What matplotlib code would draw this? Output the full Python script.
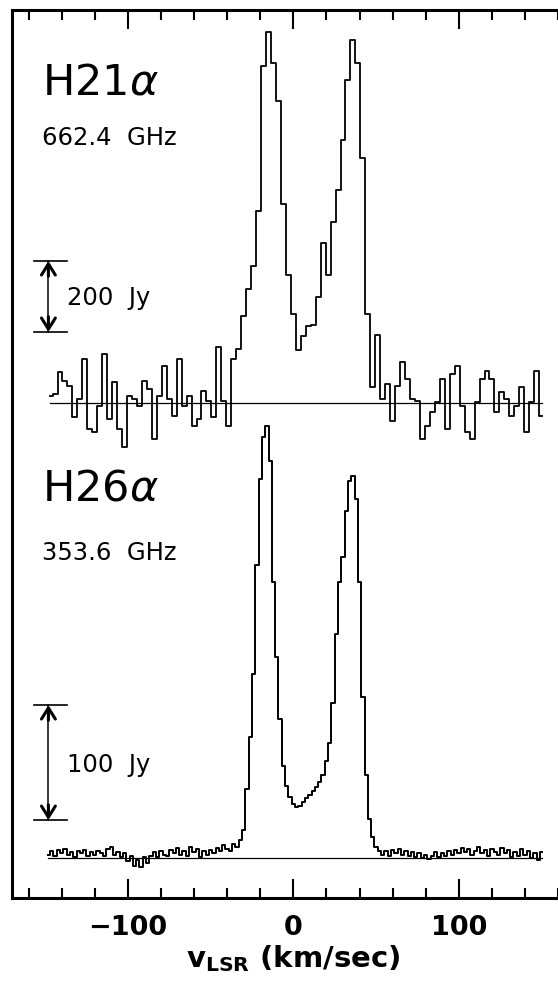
import matplotlib
matplotlib.use("Agg")
import matplotlib.pyplot as plt
import numpy as np
from matplotlib.ticker import MultipleLocator

plt.rcParams['font.family'] = ['DejaVu Sans']
plt.rcParams['mathtext.fontset'] = 'dejavusans'

# --- H21alpha, 662.4 GHz: channels every 3 km/s from -147 km/s (Jy)
h21_v0, h21_dv = -147.0, 3.0
h21_flux = [20, 25, 86, 63, 49, -40, 11, 124, -73, -83,
            -8, 138, -45, 58, -73, -125, 21, 11, -8, 63,
            39, -101, 21, 105, 11, -36, 124, -8, 21, -64,
            -45, 35, 7, -40, 157, 7, -64, 124, 152, 246,
            321, 387, 540, 950, 1046, 958, 850, 560, 360, 250,
            150, 190, 218, 220, 300, 452, 360, 509, 600, 740,
            910, 1022, 958, 690, 250, 45, 192, 11, 54, -50,
            49, 115, 68, 11, 7, -101, -64, -26, 2, 68,
            -73, 82, 105, -8, -83, -101, 2, 68, 91, 68,
            -26, 30, 11, -36, -8, 44, -83, 2, 91, -36]

# --- H26alpha, 353.6 GHz: channels every 2 km/s from -148 km/s (Jy)
h26_v0, h26_dv = -148.0, 2.0
h26_flux = [3, 6, 2, 7, 4, 8, 3, 5, 1, 6,
            4, 7, 2, 5, 3, 6, 4, 2, 8, 10,
            3, 5, 1, 4, -3, 2, -7, -2, -8, 1,
            -4, 2, 5, 1, 6, 3, 2, 7, 4, 9,
            3, 6, 2, 10, 5, 8, 1, 6, 3, 7,
            4, 9, 6, 11,
            8, 6, 12, 10, 16, 24, 60, 105, 160, 255,
            330, 366, 376, 345, 240, 175, 121, 80, 63, 53,
            47, 44, 45, 49, 52, 55, 58, 62, 66, 72,
            84, 100, 135, 195, 240, 262, 302, 328, 332, 312,
            240, 140, 72, 34, 18, 10, 6, 3,
            6, 2, 7, 4, 8, 3, 6, 2, 5, 1,
            4, 0, 3, -1, 2, 5, 1, 4, 2, 6,
            3, 7, 4, 9, 5, 8, 3, 6, 10, 4,
            7, 2, 8, 5, 3, 9, 4, 7, 1, 5,
            2, 8, 3, 6, 0, 4, -2, 5]

h21_label, h21_freq, h21_bar = r'H21$\alpha$', '662.4  GHz', '200  Jy'
h26_label, h26_freq, h26_bar = r'H26$\alpha$', '353.6  GHz', '100  Jy'
h21_bar_range = (200, 400)
h26_bar_range = (33, 133)

v21 = h21_v0 + h21_dv * np.arange(len(h21_flux))
v26 = h26_v0 + h26_dv * np.arange(len(h26_flux))

# figure 558 x 982 px, frame spans x 12..(off right edge), y 10..898
W, H = 558, 982
px_per_kms = 1.655
xlim = (-170, 170)
rect = [12 / W, (H - 898) / H, (xlim[1] - xlim[0]) * px_per_kms / W, 888 / H]

fig = plt.figure(figsize=(W / 100, H / 100), dpi=100)
ax = fig.add_axes(rect)
ax.set_xlim(*xlim)
ax.set_ylim(0, 1)
for s in ax.spines.values():
    s.set_linewidth(2.2)
ax.tick_params(axis='x', which='both', direction='in', top=True, bottom=True,
               width=1.5, labelsize=19.5, pad=12)
ax.tick_params(axis='x', which='major', length=13.5)
ax.tick_params(axis='x', which='minor', length=7)
ax.tick_params(axis='y', left=False, labelleft=False)
ax.xaxis.set_major_locator(MultipleLocator(100))
ax.xaxis.set_minor_locator(MultipleLocator(20))
for lab in ax.get_xticklabels():
    lab.set_fontweight('bold')
ax.set_xlabel(r'v$_{\mathbf{LSR}}$ (km/sec)', fontsize=21, fontweight='bold',
              labelpad=2)


def overlay(base_px, px_per_jy):
    # transparent axes on the same frame, scaled in Jy
    a = fig.add_axes(rect, sharex=ax)
    lo = -(898 - base_px) / px_per_jy
    a.set_ylim(lo, lo + 888 / px_per_jy)
    a.set_xlim(*xlim)
    a.axis('off')
    return a


ax21 = overlay(403, 0.355)
ax26 = overlay(858, 1.15)


def draw(a, v, flux, label, freq, bar_txt, bar, ylab, yfreq, ybar, lw):
    a.plot(v, flux, drawstyle='steps-mid', color='black', lw=lw)
    a.plot([v[0], v[-1]], [0, 0], color='black', lw=0.9)
    a.text(-152, ylab, label, fontsize=31, va='baseline', ha='left')
    a.text(-152, yfreq, freq, fontsize=17.5, va='baseline', ha='left')
    # scale bar: caps, thin shaft, bold arrowheads
    xb = -148
    for yc in bar:
        a.plot([-157, -136.5], [yc, yc], color='black', lw=1.2)
    a.plot([xb, xb], bar, color='black', lw=1.1)
    for yc, off in ((bar[1], -11), (bar[0], 11)):
        a.annotate('', xy=(xb, yc), xytext=(0, off), textcoords='offset points',
                   arrowprops=dict(arrowstyle='->,head_length=0.8,head_width=0.5',
                                   lw=2.2, color='black', shrinkA=0, shrinkB=0))
    a.text(-137, ybar, bar_txt, fontsize=17.5, va='baseline', ha='left')


draw(ax21, v21, h21_flux, h21_label, h21_freq, h21_bar, h21_bar_range,
     868, 727, 276, 1.3)
draw(ax26, v26, h26_flux, h26_label, h26_freq, h26_bar, h26_bar_range,
     311, 259, 75, 1.4)

fig.savefig('out.png', dpi=100)
